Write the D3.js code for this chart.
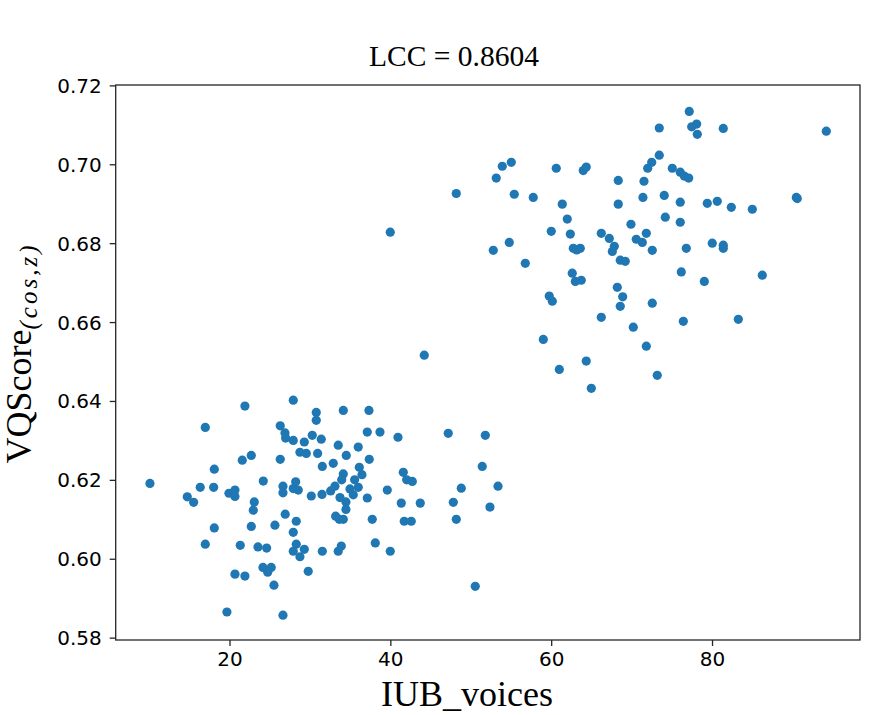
<!DOCTYPE html>
<html>
<head>
<meta charset="utf-8">
<script src="https://cdn.jsdelivr.net/npm/d3@7"></script>
<style>
  html, body { margin: 0; padding: 0; background: #ffffff; }
  svg { display: block; }
</style>
</head>
<body>
<div id="chart"></div>
<script>
const titleText = "LCC = 0.8604";
const xLabelText = "IUB_voices";
const yLabelMain = "VQScore";
const yLabelSub = "(cos,z)";

const xTicks = [20, 40, 60, 80];
const yTicks = [0.58, 0.60, 0.62, 0.64, 0.66, 0.68, 0.70, 0.72];

const xValues = [
  10.11,16.99,14.75,15.54,16.36,18.03,18.11,18.11,16.99,21.92,
  21.59,22.71,19.93,20.68,20.68,23.08,22.96,24.20,22.71,21.34,
  23.54,24.62,24.16,25.19,24.75,20.68,21.92,25.53,19.68,26.65,
  27.93,26.31,26.90,26.98,27.93,26.31,28.76,26.65,26.65,28.23,
  27.93,28.55,26.93,28.30,25.65,27.93,28.30,27.93,28.76,30.79,
  30.79,34.15,37.34,37.13,38.71,40.95,47.20,51.81,29.30,30.29,
  31.41,29.55,30.96,33.52,34.52,36.01,37.38,31.54,32.90,34.15,
  36.14,36.47,41.61,42.03,42.73,51.43,33.95,33.11,32.58,31.50,
  30.17,35.56,34.98,36.01,35.39,33.74,34.48,34.48,37.13,39.62,
  41.36,43.72,48.82,53.39,47.83,52.39,33.20,33.65,34.15,37.75,
  41.73,42.60,48.20,29.30,31.54,33.52,33.90,38.13,39.99,29.79,
  50.56,39.99,48.20,44.22,
  73.44,53.92,55.04,53.17,60.63,63.99,64.36,68.34,73.44,72.50,
  72.00,71.54,55.41,57.77,61.38,68.34,71.41,74.06,74.19,62.00,
  69.92,60.01,62.38,66.23,67.23,71.83,70.58,71.33,72.57,67.85,
  67.60,68.59,69.21,62.75,63.62,63.17,54.79,52.80,56.78,62.62,
  63.00,63.74,68.22,68.89,68.59,72.57,59.76,60.14,66.23,70.21,
  59.02,71.83,64.36,61.01,73.19,64.99,77.17,77.47,78.09,78.17,
  81.40,94.21,75.06,76.05,76.55,77.10,76.05,79.41,80.65,82.40,
  85.01,90.48,90.60,76.05,76.80,80.03,81.40,81.40,76.18,79.04,
  86.25,76.43,83.27
];

const yValues = [
  0.6191,0.6333,0.6157,0.6143,0.6181,0.6181,0.6227,0.6078,0.6037,0.6387,
  0.6250,0.6262,0.6166,0.6174,0.6158,0.6144,0.6123,0.6197,0.6082,0.6034,
  0.6030,0.6027,0.5978,0.5978,0.5966,0.5961,0.5956,0.5933,0.5865,0.5857,
  0.6402,0.6337,0.6319,0.6306,0.6300,0.6252,0.6270,0.6184,0.6167,0.6195,
  0.6178,0.6174,0.6113,0.6095,0.6085,0.6067,0.6037,0.6019,0.6005,0.6371,
  0.6351,0.6376,0.6376,0.6321,0.6321,0.6308,0.6318,0.6313,0.6296,0.6313,
  0.6303,0.6267,0.6267,0.6288,0.6262,0.6283,0.6252,0.6234,0.6242,0.6215,
  0.6232,0.6213,0.6219,0.6200,0.6196,0.6234,0.6200,0.6184,0.6172,0.6163,
  0.6159,0.6200,0.6177,0.6181,0.6162,0.6155,0.6144,0.6125,0.6154,0.6174,
  0.6141,0.6141,0.6179,0.6184,0.6143,0.6131,0.6108,0.6100,0.6100,0.6100,
  0.6095,0.6095,0.6100,0.6024,0.6019,0.6019,0.6032,0.6040,0.6019,0.5968,
  0.5930,0.6828,0.6926,0.6516,
  0.7092,0.6995,0.7005,0.6965,0.6990,0.6984,0.6993,0.6959,0.7023,0.7005,
  0.6990,0.6957,0.6924,0.6916,0.6899,0.6899,0.6916,0.6921,0.6866,0.6861,
  0.6848,0.6830,0.6823,0.6825,0.6812,0.6825,0.6810,0.6802,0.6782,0.6792,
  0.6779,0.6757,0.6754,0.6787,0.6787,0.6783,0.6802,0.6782,0.6749,0.6724,
  0.6703,0.6706,0.6688,0.6664,0.6640,0.6648,0.6666,0.6653,0.6612,0.6587,
  0.6556,0.6539,0.6501,0.6480,0.6465,0.6432,0.7134,0.7095,0.7102,0.7076,
  0.7091,0.7084,0.6990,0.6980,0.6970,0.6965,0.6904,0.6901,0.6906,0.6891,
  0.6886,0.6916,0.6913,0.6853,0.6787,0.6800,0.6795,0.6787,0.6727,0.6703,
  0.6719,0.6602,0.6607
];

const W = 890, H = 715;
const plot = { left: 115.7, right: 860, top: 85, bottom: 640 };
const axisColor = "#262626";
const dotColor = "#1f77b4";

const svg = d3.select("#chart").append("svg")
  .attr("width", W).attr("height", H)
  .attr("viewBox", `0 0 ${W} ${H}`);

svg.append("rect").attr("width", W).attr("height", H).attr("fill", "#ffffff");

const x = d3.scaleLinear().domain([5.85, 98.4]).range([plot.left, plot.right]);
const y = d3.scaleLinear().domain([0.5794, 0.7201]).range([plot.bottom, plot.top]);

const points = xValues.map((v, i) => ({ x: v, y: yValues[i] }));

// points
svg.append("g")
  .selectAll("circle")
  .data(points)
  .join("circle")
  .attr("cx", d => x(d.x))
  .attr("cy", d => y(d.y))
  .attr("r", 4.6)
  .attr("fill", dotColor);

// axes
const tickFont = "'DejaVu Sans', sans-serif";

const xAxis = d3.axisBottom(x).tickValues(xTicks).tickSize(6).tickPadding(6)
  .tickFormat(d3.format("d"));
const gx = svg.append("g").attr("transform", `translate(0,${plot.bottom})`).call(xAxis);

const yAxis = d3.axisLeft(y).tickValues(yTicks).tickSize(6).tickPadding(8)
  .tickFormat(d3.format(".2f"));
const gy = svg.append("g").attr("transform", `translate(${plot.left},0)`).call(yAxis);

[gx, gy].forEach(g => {
  g.select(".domain").remove();
  g.selectAll(".tick line").attr("stroke", axisColor).attr("stroke-width", 1.3);
  g.selectAll(".tick text")
    .attr("fill", "#000000")
    .style("font-family", tickFont)
    .style("font-size", "20px");
});
gx.selectAll(".tick text").attr("dy", "0.71em");
gy.selectAll(".tick text").attr("dy", "0.35em");

// frame (spines)
svg.append("rect")
  .attr("x", plot.left).attr("y", plot.top)
  .attr("width", plot.right - plot.left)
  .attr("height", plot.bottom - plot.top)
  .attr("fill", "none")
  .attr("stroke", axisColor)
  .attr("stroke-width", 1.3);

const serif = "'Liberation Serif', 'Times New Roman', serif";

// title
svg.append("text")
  .attr("x", 454).attr("y", 66)
  .attr("text-anchor", "middle")
  .style("font-family", serif)
  .style("font-size", "29.5px")
  .attr("fill", "#000")
  .text(titleText);

// x label
svg.append("text")
  .attr("x", 467).attr("y", 706)
  .attr("text-anchor", "middle")
  .style("font-family", serif)
  .style("font-size", "36px")
  .attr("fill", "#000")
  .text(xLabelText);

// y label
const yl = svg.append("text")
  .attr("transform", "translate(31,353) rotate(-90)")
  .attr("text-anchor", "middle")
  .style("font-family", serif)
  .style("font-size", "36px")
  .attr("fill", "#000");
yl.append("tspan").text(yLabelMain);
yl.append("tspan")
  .attr("dy", 6)
  .style("font-size", "25px")
  .style("font-style", "italic")
  .style("letter-spacing", "3px")
  .text(yLabelSub);
</script>
</body>
</html>
